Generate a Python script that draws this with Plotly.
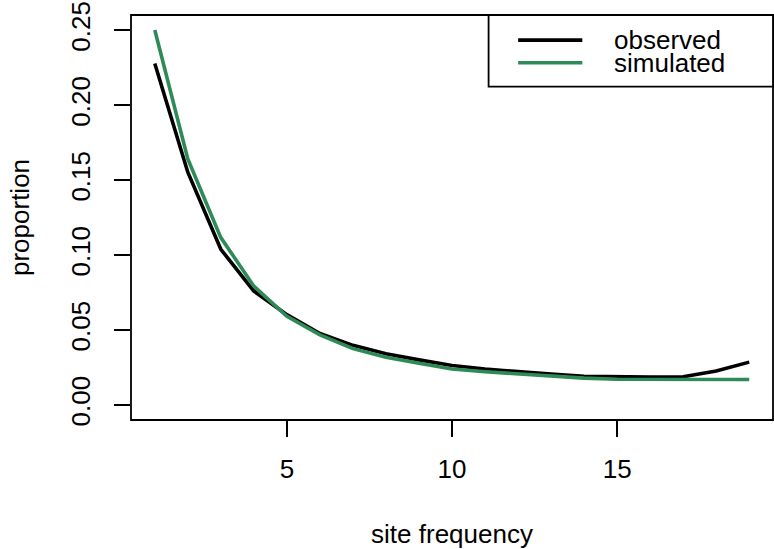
import plotly.graph_objects as go

# Site frequency spectrum: observed vs simulated proportions
site_freq = list(range(1, 20))
observed = [0.2279, 0.1553, 0.1039, 0.0760, 0.0603, 0.0477, 0.0398, 0.0342,
            0.0301, 0.0263, 0.0240, 0.0222, 0.0206, 0.0192, 0.0186, 0.0186,
            0.0188, 0.0227, 0.0286]
simulated = [0.2502, 0.1642, 0.1117, 0.0793, 0.0592, 0.0468, 0.0376, 0.0319,
             0.0278, 0.0240, 0.0222, 0.0206, 0.0190, 0.0179, 0.0172, 0.0170,
             0.0168, 0.0168, 0.0170]
series_names = ["observed", "simulated"]
series_colors = ["#000000", "#2E8B57"]
x_ticks = [5, 10, 15]
y_ticks = [0.00, 0.05, 0.10, 0.15, 0.20, 0.25]

FONT = "Liberation Sans, Arial, Helvetica, sans-serif"
FS = 26
LW = 3.6

# axis limits with a 4% pad on each side
x_lo, x_hi = min(site_freq), max(site_freq)
x_pad = 0.04 * (x_hi - x_lo)
y_lo, y_hi = 0.0, max(max(observed), max(simulated))
y_pad = 0.04 * (y_hi - y_lo)

fig = go.Figure()
for name, vals, col in zip(series_names, [observed, simulated], series_colors):
    fig.add_trace(go.Scatter(x=site_freq, y=vals, mode="lines", name=name,
                             line=dict(color=col, width=LW),
                             showlegend=False))

fig.update_layout(
    width=774, height=549,
    margin=dict(l=131, r=1, t=15, b=129),
    paper_bgcolor="white", plot_bgcolor="white",
    font=dict(family=FONT, size=FS, color="black"),
)

fig.update_xaxes(
    range=[x_lo - x_pad, x_hi + x_pad],
    tickvals=x_ticks, ticktext=[str(v) for v in x_ticks],
    ticks="outside", ticklen=16, tickwidth=1.5, tickcolor="black",
    ticklabelstandoff=10,
    showgrid=False, zeroline=False, showline=False,
    title=dict(text="site frequency", standoff=46, font=dict(size=FS)),
)
fig.update_yaxes(
    range=[y_lo - y_pad, y_hi + y_pad],
    tickvals=y_ticks, ticktext=[f"{v:.2f}" for v in y_ticks],
    tickangle=-90,
    ticks="outside", ticklen=16, tickwidth=1.5, tickcolor="black",
    ticklabelstandoff=14,
    showgrid=False, zeroline=False, showline=False,
    title=dict(text="proportion", standoff=28, font=dict(size=FS)),
)

# plot frame
fig.add_shape(type="rect", xref="paper", yref="paper", x0=0, y0=0, x1=1, y1=1,
              line=dict(color="black", width=1.8), layer="above")

# legend box in the top-right corner
leg_x0, leg_y0 = 0.557, 0.823
fig.add_shape(type="rect", xref="paper", yref="paper",
              x0=leg_x0, y0=leg_y0, x1=1, y1=1,
              line=dict(color="black", width=1.8), fillcolor="white",
              layer="above")
row_y = [0.938, 0.882]
for name, col, yy in zip(series_names, series_colors, row_y):
    fig.add_shape(type="line", xref="paper", yref="paper",
                  x0=0.603, x1=0.703, y0=yy, y1=yy,
                  line=dict(color=col, width=LW), layer="above")
    fig.add_annotation(xref="paper", yref="paper", x=0.749, y=yy,
                       text=name, showarrow=False, height=22,
                       xanchor="left", yanchor="middle",
                       font=dict(family=FONT, size=FS, color="black"))

fig.write_html("out.html")
